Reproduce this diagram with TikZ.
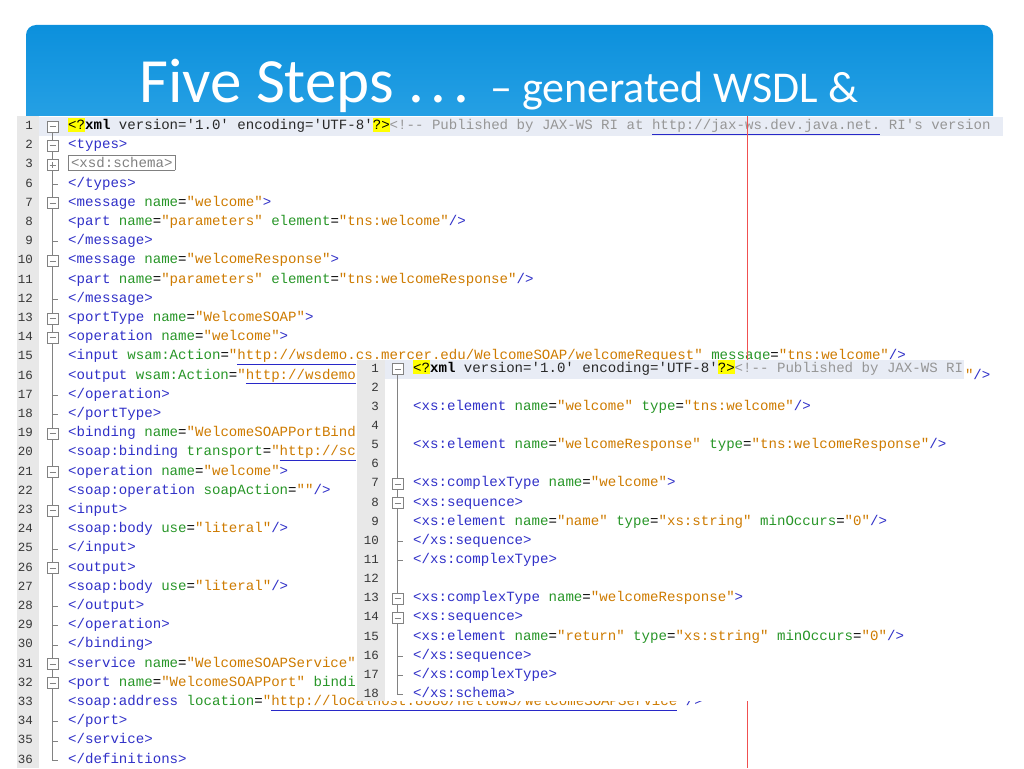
\documentclass[tikz,border=0pt]{standalone}
\usepackage{fontspec}
\setmonofont{Liberation Mono}
\newfontfamily\titlefont{Carlito}

\definecolor{bandtop}{RGB}{12,144,220}
\definecolor{bandbot}{RGB}{44,164,230}
\definecolor{tagc}{RGB}{48,48,200}
\definecolor{attrc}{RGB}{40,150,40}
\definecolor{valc}{RGB}{206,123,0}
\definecolor{urlc}{RGB}{40,40,200}
\definecolor{cmtc}{RGB}{150,150,150}
\definecolor{plainc}{RGB}{40,40,40}
\definecolor{numc}{RGB}{55,55,55}
\definecolor{guttc}{RGB}{232,232,232}
\definecolor{rowc}{RGB}{232,236,245}
\definecolor{hly}{RGB}{255,255,0}
\definecolor{boxc}{RGB}{128,128,128}
\definecolor{foldc}{RGB}{130,130,130}
\definecolor{marginc}{RGB}{240,80,80}

\newcommand\codefont{\ttfamily\fontsize{14.1pt}{16pt}\selectfont}
\newcommand\numfont{\ttfamily\fontsize{12.5pt}{14pt}\selectfont}
\newcommand\xtag[1]{\textcolor{tagc}{#1}}
\newcommand\xatt[1]{\textcolor{attrc}{#1}=}
\newcommand\xval[1]{\textcolor{valc}{"#1"}}
\newcommand\xulin[1]{\textcolor{urlc}{\underline{\textcolor{valc}{#1}}}}
\newcommand\xurl[1]{\textcolor{valc}{"}\xulin{#1}\textcolor{valc}{"}}
\newcommand\xhl[1]{{\setlength\fboxsep{0pt}\colorbox{hly}{\rule[-2pt]{0pt}{14pt}#1}}}
\newcommand\xbox[1]{{\setlength\fboxsep{2pt}\setlength\fboxrule{0.8pt}\fcolorbox{boxc}{white}{\textcolor{boxc}{#1}}}}

\begin{document}
\begin{tikzpicture}
	[x=1pt,y=-1pt,
	 codeline/.style={anchor=west,inner sep=0,font=\codefont,text height=7pt,text depth=1pt},
	 lnum/.style={anchor=east,inner sep=0,font=\numfont,text=numc,text height=7pt,text depth=1pt},
	 foldline/.style={draw=foldc,line width=0.8pt},
	 foldbox/.style={foldline,fill=white},
	 titletext/.style={anchor=base west,inner sep=0,text=white}]
    \useasboundingbox (0,0) rectangle (1024,768);

    % title band
    \shade[top color=bandtop,bottom color=bandbot,rounded corners=10pt] (26,25) rectangle (993,140);
    \node[titletext,font={\titlefont\fontsize{63pt}{70pt}\selectfont}] (title) at (139,102) {Five Steps .\kern6.5pt.\kern6.5pt.};
    \node[titletext,font={\titlefont\fontsize{44pt}{50pt}\selectfont}] (subtitle) at (490,102) {– generated WSDL \&};

    % first editor
    \fill[white] (0,116) rectangle (1024,768);
    \fill[guttc] (17,116) rectangle (39,768);
    \fill[rowc] (39,116.5) rectangle (1003,136);

    \draw[foldline] (52.5,126.5) -- (52.5,760.1) -- (58,760.1);
    \foreach \y in {184.1,241.7,299.3,395.3,414.5,548.9,606.5,625.7,644.9,721.7,740.9}
        \draw[foldline] (52.5,\y) -- (58,\y);
    \foreach \y in {126.5,145.7,164.9,203.3,260.9,318.5,337.7,433.7,472.1,510.5,568.1,664.1,683.3} {
        \draw[foldbox] (47,\y-5.5) rectangle (58,\y+5.5);
        \draw[foldline] (49.5,\y) -- (55.5,\y);
    }
    \draw[foldline] (52.5,161.9) -- (52.5,167.9);

    \foreach \n/\y in {1/126.5,2/145.7,3/164.9,6/184.1,7/203.3,8/222.5,9/241.7,10/260.9,
        11/280.1,12/299.3,13/318.5,14/337.7,15/356.9,16/376.1,17/395.3,18/414.5,19/433.7,
        20/452.9,21/472.1,22/491.3,23/510.5,24/529.7,25/548.9,26/568.1,27/587.3,28/606.5,
        29/625.7,30/644.9,31/664.1,32/683.3,33/702.5,34/721.7,35/740.9,36/760.1}
        \node[lnum] (n\n) at (33,\y) {\n};

    \node[codeline] (l1) at (68,126.5) {\xhl{<?}\textbf{xml} \textcolor{plainc}{version='1.0' encoding='UTF-8'}\xhl{?>}\textcolor{cmtc}{<!-- Published by JAX-WS RI at {\color{urlc}\underline{\textcolor{cmtc}{http://jax-ws.dev.java.net.}}} RI's version}};
    \node[codeline] (l2) at (68,145.7) {\xtag{<types>}};
    \node[codeline] (l3) at (68,164.9) {\xbox{<xsd:schema>}};
    \node[codeline] (l6) at (68,184.1) {\xtag{</types>}};
    \node[codeline] (l7) at (68,203.3) {\xtag{<message} \xatt{name}\xval{welcome}\xtag{>}};
    \node[codeline] (l8) at (68,222.5) {\xtag{<part} \xatt{name}\xval{parameters} \xatt{element}\xval{tns:welcome}\xtag{/>}};
    \node[codeline] (l9) at (68,241.7) {\xtag{</message>}};
    \node[codeline] (l10) at (68,260.9) {\xtag{<message} \xatt{name}\xval{welcomeResponse}\xtag{>}};
    \node[codeline] (l11) at (68,280.1) {\xtag{<part} \xatt{name}\xval{parameters} \xatt{element}\xval{tns:welcomeResponse}\xtag{/>}};
    \node[codeline] (l12) at (68,299.3) {\xtag{</message>}};
    \node[codeline] (l13) at (68,318.5) {\xtag{<portType} \xatt{name}\xval{WelcomeSOAP}\xtag{>}};
    \node[codeline] (l14) at (68,337.7) {\xtag{<operation} \xatt{name}\xval{welcome}\xtag{>}};
    \node[codeline] (l15) at (68,356.9) {\xtag{<input} \xatt{wsam:Action}\xurl{http://wsdemo.cs.mercer.edu/WelcomeSOAP/welcomeRequest} \xatt{message}\xval{tns:welcome}\xtag{/>}};
    \node[codeline] (l16) at (68,376.1) {\xtag{<output} \xatt{wsam:Action}\textcolor{valc}{"}\xulin{http://wsdemo}};
    \node[codeline] (l16t) at (964.8,376.1) {\textcolor{valc}{"}\xtag{/>}};
    \node[codeline] (l17) at (68,395.3) {\xtag{</operation>}};
    \node[codeline] (l18) at (68,414.5) {\xtag{</portType>}};
    \node[codeline] (l19) at (68,433.7) {\xtag{<binding} \xatt{name}\textcolor{valc}{"WelcomeSOAPPortBind}};
    \node[codeline] (l20) at (68,452.9) {\xtag{<soap:binding} \xatt{transport}\textcolor{valc}{"}\xulin{http://sc}};
    \node[codeline] (l21) at (68,472.1) {\xtag{<operation} \xatt{name}\xval{welcome}\xtag{>}};
    \node[codeline] (l22) at (68,491.3) {\xtag{<soap:operation} \xatt{soapAction}\xval{}\xtag{/>}};
    \node[codeline] (l23) at (68,510.5) {\xtag{<input>}};
    \node[codeline] (l24) at (68,529.7) {\xtag{<soap:body} \xatt{use}\xval{literal}\xtag{/>}};
    \node[codeline] (l25) at (68,548.9) {\xtag{</input>}};
    \node[codeline] (l26) at (68,568.1) {\xtag{<output>}};
    \node[codeline] (l27) at (68,587.3) {\xtag{<soap:body} \xatt{use}\xval{literal}\xtag{/>}};
    \node[codeline] (l28) at (68,606.5) {\xtag{</output>}};
    \node[codeline] (l29) at (68,625.7) {\xtag{</operation>}};
    \node[codeline] (l30) at (68,644.9) {\xtag{</binding>}};
    \node[codeline] (l31) at (68,664.1) {\xtag{<service} \xatt{name}\xval{WelcomeSOAPService}};
    \node[codeline] (l32) at (68,683.3) {\xtag{<port} \xatt{name}\xval{WelcomeSOAPPort} \textcolor{attrc}{bindi}};
    \node[codeline] (l33) at (68,702.5) {\xtag{<soap:address} \xatt{location}\xurl{http://localhost:8080/HelloWS/WelcomeSOAPService}\xtag{/>}};
    \node[codeline] (l34) at (68,721.7) {\xtag{</port>}};
    \node[codeline] (l35) at (68,740.9) {\xtag{</service>}};
    \node[codeline] (l36) at (68,760.1) {\xtag{</definitions>}};

    % print margin
    \draw[draw=marginc,line width=1pt] (747,116) -- (747,768);

    % second editor on top
    \fill[white] (356,359.5) rectangle (964,701);
    \fill[guttc] (357,359.5) rectangle (385,701);
    \fill[rowc] (385,359.5) rectangle (964,378.5);

    \draw[foldline] (397.5,369) -- (397.5,694.55) -- (403,694.55);
    \foreach \y in {541.35,560.5,656.25,675.4}
        \draw[foldline] (397.5,\y) -- (403,\y);
    \foreach \y in {369,483.9,503.05,598.8,617.95} {
        \draw[foldbox] (392,\y-5.5) rectangle (403,\y+5.5);
        \draw[foldline] (394.5,\y) -- (400.5,\y);
    }

    \foreach \n in {1,...,18}
        \node[lnum] (m\n) at (379,{369+(\n-1)*19.15}) {\n};

    \node[codeline] (s1) at (413,369) {\xhl{<?}\textbf{xml} \textcolor{plainc}{version='1.0' encoding='UTF-8'}\xhl{?>}\textcolor{cmtc}{<!-- Published by JAX-WS RI}};
    \node[codeline] (s3) at (413,407.3) {\xtag{<xs:element} \xatt{name}\xval{welcome} \xatt{type}\xval{tns:welcome}\xtag{/>}};
    \node[codeline] (s5) at (413,445.6) {\xtag{<xs:element} \xatt{name}\xval{welcomeResponse} \xatt{type}\xval{tns:welcomeResponse}\xtag{/>}};
    \node[codeline] (s7) at (413,483.9) {\xtag{<xs:complexType} \xatt{name}\xval{welcome}\xtag{>}};
    \node[codeline] (s8) at (413,503.05) {\xtag{<xs:sequence>}};
    \node[codeline] (s9) at (413,522.2) {\xtag{<xs:element} \xatt{name}\xval{name} \xatt{type}\xval{xs:string} \xatt{minOccurs}\xval{0}\xtag{/>}};
    \node[codeline] (s10) at (413,541.35) {\xtag{</xs:sequence>}};
    \node[codeline] (s11) at (413,560.5) {\xtag{</xs:complexType>}};
    \node[codeline] (s13) at (413,598.8) {\xtag{<xs:complexType} \xatt{name}\xval{welcomeResponse}\xtag{>}};
    \node[codeline] (s14) at (413,617.95) {\xtag{<xs:sequence>}};
    \node[codeline] (s15) at (413,637.1) {\xtag{<xs:element} \xatt{name}\xval{return} \xatt{type}\xval{xs:string} \xatt{minOccurs}\xval{0}\xtag{/>}};
    \node[codeline] (s16) at (413,656.25) {\xtag{</xs:sequence>}};
    \node[codeline] (s17) at (413,675.4) {\xtag{</xs:complexType>}};
    \node[codeline] (s18) at (413,694.55) {\xtag{</xs:schema>}};

\end{tikzpicture}
\end{document}
